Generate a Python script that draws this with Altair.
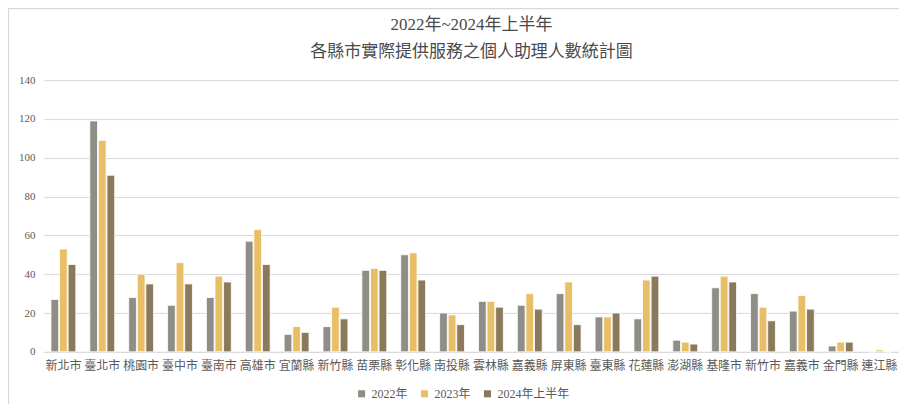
import altair as alt
import pandas as pd

counties = ["新北市", "臺北市", "桃園市", "臺中市", "臺南市", "高雄市", "宜蘭縣", "新竹縣",
            "苗栗縣", "彰化縣", "南投縣", "雲林縣", "嘉義縣", "屏東縣", "臺東縣", "花蓮縣",
            "澎湖縣", "基隆市", "新竹市", "嘉義市", "金門縣", "連江縣"]
series = ["2022年", "2023年", "2024年上半年"]
v2022 = [27, 119, 28, 24, 28, 57, 9, 13, 42, 50, 20, 26, 24, 30, 18, 17, 6, 33, 30, 21, 3, 0]
v2023 = [53, 109, 40, 46, 39, 63, 13, 23, 43, 51, 19, 26, 30, 36, 18, 37, 5, 39, 23, 29, 5, 1]
v2024 = [45, 91, 35, 35, 36, 45, 10, 17, 42, 37, 14, 23, 22, 14, 20, 39, 4, 36, 16, 22, 5, 0]
colors = ["#8E8E86", "#E8BF66", "#8A7A5B"]

rows = []
for s, vals in zip(series, [v2022, v2023, v2024]):
    for c, v in zip(counties, vals):
        rows.append({"縣市": c, "年度": s, "人數": v})
df = pd.DataFrame(rows)

FONT = "'Liberation Serif', 'Noto Sans CJK TC'"
TXT = "#595959"

bars = alt.Chart(df).mark_bar(stroke="white", strokeWidth=0.8).encode(
    x=alt.X("縣市:N", sort=counties, title=None,
            scale=alt.Scale(paddingInner=0.36, paddingOuter=0.18),
            axis=alt.Axis(labelAngle=0, ticks=False, domainColor="#D9D9D9",
                          labelFontSize=12, labelColor=TXT, labelPadding=9, labelFont=FONT)),
    xOffset=alt.XOffset("年度:N", sort=series, scale=alt.Scale(paddingInner=0.1)),
    y=alt.Y("人數:Q", title=None,
            scale=alt.Scale(domain=[0, 140]),
            axis=alt.Axis(values=[0, 20, 40, 60, 80, 100, 120, 140], ticks=False, domain=False,
                          gridColor="#D9D9D9", labelFontSize=11, labelColor=TXT, labelPadding=9,
                          labelFont=FONT)),
    color=alt.Color("年度:N", sort=series,
                    scale=alt.Scale(domain=series, range=colors),
                    legend=alt.Legend(title=None, orient="none", direction="horizontal",
                                      legendX=312, legendY=308, symbolType="square",
                                      symbolSize=50, labelFontSize=12, labelColor=TXT,
                                      labelFont=FONT, columnPadding=10, symbolStrokeWidth=0)),
)

frame_left = alt.Chart().mark_rule(color="#D9D9D9", strokeWidth=1.2).encode(
    x=alt.value(-35.5), y=alt.value(-72), y2=alt.value(330))
frame_top = alt.Chart().mark_rule(color="#D9D9D9", strokeWidth=1.2).encode(
    x=alt.value(-36), x2=alt.value(860), y=alt.value(-71.5))

chart = alt.layer(frame_left, frame_top, bars).properties(
    width=856, height=272,
    title=alt.TitleParams(["2022年~2024年上半年", "各縣市實際提供服務之個人助理人數統計圖"],
                          anchor="middle", fontSize=17, fontWeight="normal", color="#4a4a4a",
                          font=FONT, lineHeight=27, offset=-53),
    autosize=alt.AutoSizeParams(type="none"),
    padding={"left": 36, "top": 72, "right": 0, "bottom": 52},
).configure_view(stroke=None)

chart.save("out.html", embed_options={"renderer": "svg", "actions": False})
